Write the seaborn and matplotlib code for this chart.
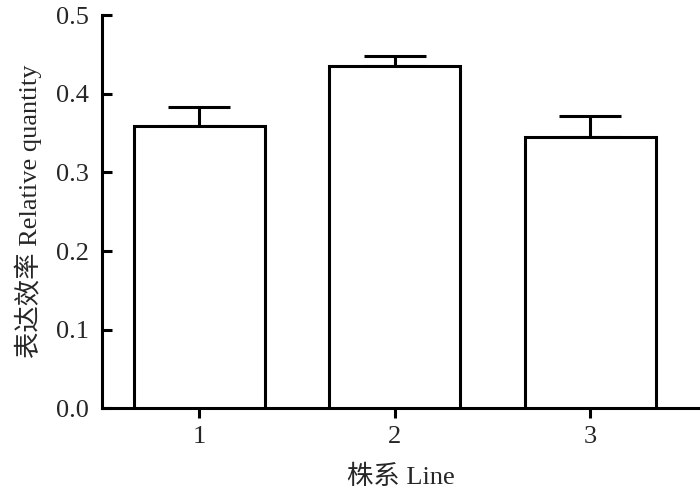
import matplotlib
matplotlib.use("Agg")
import matplotlib.pyplot as plt
import pandas as pd
import seaborn as sns

lines = ["1", "2", "3"]
means = [0.359, 0.435, 0.345]
errs = [0.024, 0.013, 0.027]
yticks = [0.0, 0.1, 0.2, 0.3, 0.4, 0.5]

sns.set_style("ticks")
plt.rcParams["font.family"] = ["Liberation Serif", "Noto Sans CJK SC"]
plt.rcParams["font.size"] = 19

df = pd.DataFrame({"line": lines, "value": means})

fig = plt.figure(figsize=(7, 4.93), dpi=100)
ax = fig.add_axes([0.145, 0.172, 0.855, 0.797])

sns.barplot(
    data=df,
    x="line",
    y="value",
    color="white",
    edgecolor="black",
    linewidth=2.2,
    width=0.67,
    errorbar=None,
    ax=ax,
    zorder=3,
)
ax.errorbar(
    range(len(lines)),
    means,
    yerr=[[0] * len(errs), errs],
    fmt="none",
    ecolor="black",
    elinewidth=2.2,
    capsize=22,
    capthick=2.2,
    zorder=2,
)

ax.set_xlim(-0.5, 2.56)
ax.set_ylim(0, 0.5)
ax.set_yticks(yticks)
ax.set_yticklabels([f"{t:.1f}" for t in yticks])
ax.set_xlabel("株系 Line", fontsize=19, labelpad=12, fontweight="medium")
ax.set_ylabel("表达效率 Relative quantity", fontsize=19, labelpad=10, fontweight="medium")

for side in ["top", "right"]:
    ax.spines[side].set_visible(False)
for side in ["left", "bottom"]:
    ax.spines[side].set_linewidth(2.2)
    ax.spines[side].set_color("black")
ax.tick_params(axis="y", direction="in", width=2.2, length=7, color="black", labelsize=19, pad=9)
ax.tick_params(axis="x", direction="out", width=2.2, length=7, color="black", labelsize=19, pad=6)

fig.savefig("out.png", dpi=100)
